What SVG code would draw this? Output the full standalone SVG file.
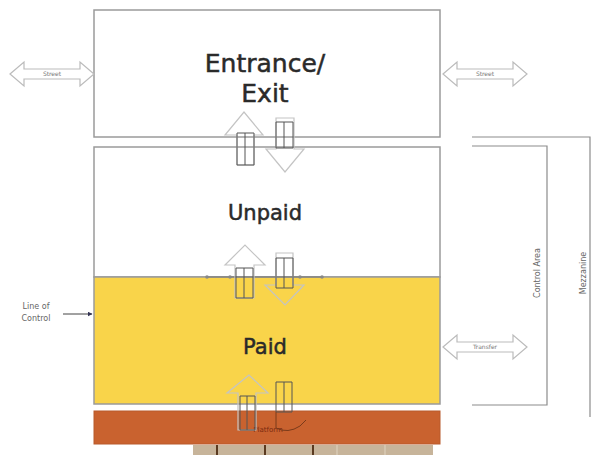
<svg xmlns="http://www.w3.org/2000/svg" width="598" height="455" viewBox="0 0 598 455">
<defs>
<style>
.box{stroke:#9a9a9a;stroke-width:1.5}
.big{font-family:"DejaVu Sans",sans-serif;fill:#2a2a2a;stroke:#2a2a2a;stroke-width:0.5;text-anchor:middle}
.small{font-family:"DejaVu Sans",sans-serif;font-size:6px;fill:#777;text-anchor:middle}
.lbl{font-family:"DejaVu Sans",sans-serif;font-size:8px;fill:#666;text-anchor:middle}
.barrow{fill:#fff;stroke:#bbb;stroke-width:1.2}
.garrow{fill:none;stroke:#c4c4c4;stroke-width:1.2}
.gate{fill:none;stroke:#555;stroke-width:1}
.dim{stroke:#8c8c8c;stroke-width:1.2;fill:none}
</style>
<marker id="ah" viewBox="0 0 10 10" refX="9" refY="5" markerWidth="5" markerHeight="5" orient="auto"><path d="M0,0L10,5L0,10z" fill="#335"/></marker>
<path id="dbl" d="M0,12 L14,0 L14,7 L70,7 L70,0 L84,12 L70,24 L70,17 L14,17 L14,24 Z"/>
</defs>
<rect width="598" height="455" fill="#fff"/>

<g id="entrance">
<rect class="box" x="94" y="10" width="346" height="127" fill="#fff"/>
<text class="big" x="265" y="72" font-size="25">Entrance/</text>
<text class="big" x="265" y="102" font-size="25">Exit</text>
</g>
<g id="unpaid">
<rect class="box" x="94" y="147" width="346" height="130" fill="#fff"/>
<text class="big" x="265" y="220" font-size="21">Unpaid</text>
</g>
<g id="paid">
<rect class="box" x="94" y="277" width="346" height="127" fill="#F9D44A"/>
<text class="big" x="265" y="354" font-size="21">Paid</text>
</g>
<g id="platform">
<rect x="94" y="411" width="346" height="33" fill="#C9622F" stroke="#b85a2c" stroke-width="1"/>
<text x="268" y="432" font-family="DejaVu Sans,sans-serif" font-size="7" fill="#7a2a10" text-anchor="middle">Platform</text>
<rect x="193" y="445" width="240" height="10" fill="#c7b49a"/>
<g stroke="#5a3a20" stroke-width="2"><line x1="217" y1="445" x2="217" y2="455"/><line x1="265" y1="445" x2="265" y2="455"/><line x1="313" y1="445" x2="313" y2="455"/></g>
<g stroke="#e0d4c0" stroke-width="1"><line x1="337" y1="445" x2="337" y2="455"/><line x1="385" y1="445" x2="385" y2="455"/></g>
</g>

<g id="street-left">
<use href="#dbl" x="10" y="62" class="barrow"/>
<text class="small" x="52" y="76">Street</text>
</g>
<g id="street-right">
<use href="#dbl" x="443" y="62" class="barrow"/>
<text class="small" x="485" y="76">Street</text>
</g>
<g id="transfer">
<use href="#dbl" x="443" y="335" class="barrow"/>
<text class="small" x="485" y="349">Transfer</text>
</g>

<g id="line-of-control">
<text class="lbl" x="36" y="309">Line of</text>
<text class="lbl" x="36" y="321">Control</text>
<line x1="63" y1="314" x2="92" y2="314" stroke="#444" stroke-width="1" marker-end="url(#ah)"/>
<line x1="207" y1="277" x2="322" y2="277" stroke="#777" stroke-width="1.2"/>
<g fill="#888"><circle cx="207" cy="277" r="1.8"/><circle cx="230" cy="277" r="1.8"/><circle cx="300" cy="277" r="1.8"/><circle cx="322" cy="277" r="1.8"/></g>
</g>

<g id="connectors">
<path class="garrow" d="M237,165 L237,135 L225,135 L244,112 L263,135 L254,135 L254,165 Z"/>
<path class="garrow" d="M276,118 L276,149 L266,149 L285,172 L304,149 L294,149 L294,118 Z"/>
<path class="gate" d="M237,133 h17 v32 h-17 z M245,133 v32"/>
<path class="gate" d="M276,122 h17 v26 h-17 z M284,122 v26"/>
<path class="garrow" d="M235,298 L235,265 L225,265 L245,245 L265,265 L254,265 L254,298 Z"/>
<path class="garrow" d="M276,253 L276,285 L265,285 L285,305 L304,285 L293,285 L293,253 Z"/>
<path class="gate" d="M236,268 h17 v30 h-17 z M244,268 v30"/>
<path class="gate" d="M276,258 h17 v30 h-17 z M284,258 v30"/>
<path class="garrow" d="M238,430 L238,393 L227,393 L249,375 L268,393 L256,393 L256,430 Z" stroke="#c9b46a"/>
<path class="gate" d="M240,396 h15 v34 h-15 z M247,396 v34"/>
<path class="gate" d="M276,382 h16 v30 h-16 z M284,382 v30"/>
<path d="M276,412 v16 q12,6 24,-2 l6,-6" fill="none" stroke="#7a3a1a" stroke-width="1"/>
</g>

<g id="dimensions">
<path class="dim" d="M472,137 H590 V417"/>
<path class="dim" d="M472,146 H547 V405 H472"/>
<text class="lbl" transform="translate(540,273) rotate(-90)">Control Area</text>
<text class="lbl" transform="translate(586,273) rotate(-90)">Mezzanine</text>
</g>
</svg>
